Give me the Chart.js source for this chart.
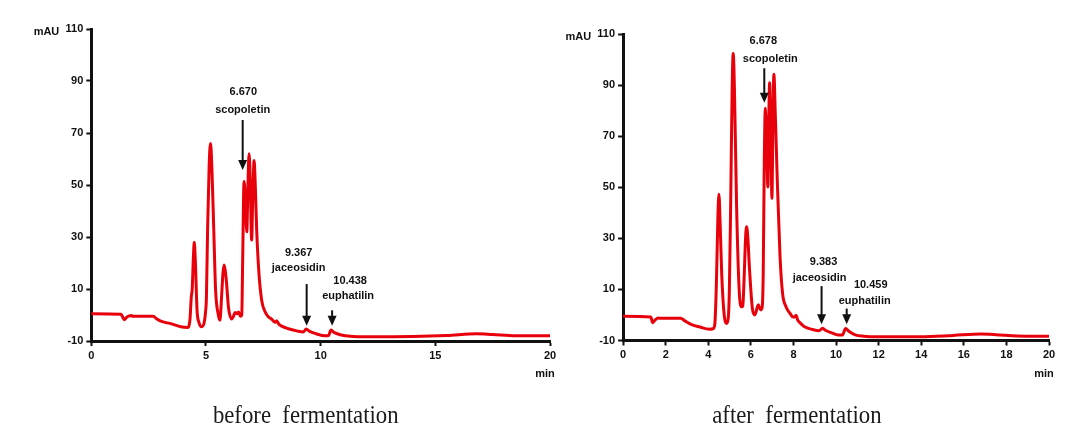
<!DOCTYPE html>
<html><head><meta charset="utf-8">
<script src="https://cdn.jsdelivr.net/npm/chart.js@4.4.1/dist/chart.umd.min.js"></script>
<style>
html,body{margin:0;padding:0;background:#fff;}
#wrap{position:relative;width:1077px;height:439px;overflow:hidden;background:#fff;}
canvas{position:absolute;left:0;top:0;}
.cap{position:absolute;top:400px;font-family:"Liberation Serif","DejaVu Serif",serif;font-size:26px;color:#1a1a1a;white-space:pre;transform:translateX(-50%) scaleX(0.875);transform-origin:0 0;}
</style></head><body>
<div id="wrap">
<canvas id="c1" width="1077" height="439" style="width:1077px;height:439px"></canvas>
<canvas id="c2" width="1077" height="439" style="width:1077px;height:439px"></canvas>
<div class="cap" id="cap1" style="left:319px"></div>
<div class="cap" id="cap2" style="left:809px"></div>
</div>
<script>
// ---------- data ----------
const captions = ['before  fermentation', 'after  fermentation'];
const yUnit = 'mAU';
const xUnit = 'min';
const yTicks = [-10, 10, 30, 50, 70, 90, 110];
const beforeXTicks = [0, 5, 10, 15, 20];
const afterXTicks = [0, 2, 4, 6, 8, 10, 12, 14, 16, 18, 20];
const peakNames = ['scopoletin', 'jaceosidin', 'euphatilin'];
const beforePeakRT = ['6.670', '9.367', '10.438'];
const afterPeakRT = ['6.678', '9.383', '10.459'];

const beforeTime = [0,1.3,1.38,1.45,1.55,1.65,1.75,1.8,2.7,2.85,3.0,3.5,3.9,4.2,4.3,4.36,4.4,4.45,4.49,4.54,4.61,4.7,4.81,4.92,4.98,5.02,5.07,5.14,5.2,5.26,5.34,5.42,5.54,5.61,5.68,5.74,5.79,5.84,5.9,5.98,6.12,6.2,6.27,6.36,6.42,6.5,6.56,6.6,6.66,6.72,6.78,6.83,6.88,6.93,6.99,7.04,7.1,7.15,7.21,7.31,7.43,7.58,7.73,7.85,7.95,8.02,8.08,8.18,8.3,8.6,9.0,9.25,9.37,9.5,9.8,10.2,10.35,10.45,10.6,10.9,11.3,12,14,15.5,16.8,17.5,18.5,20];
const beforeAbs = [0.5,0.3,-1.0,-1.8,-0.8,-0.4,-0.2,-0.5,-0.5,-1.5,-2.3,-3.4,-4.5,-4.8,-2,7,10,22,28,20,2,-3,-4.5,-3,1,7,32.7,58,66,56,32.7,9.5,0,-2,7,16,19.2,17,12,3,-1.5,-0.5,1,0.5,1.2,-0.5,0,21,51.3,44,32,50,62,52,28.8,45,59.4,50,33,16,5.6,1.2,-0.8,-1.5,-2.4,-2.8,-2.2,-3.6,-4.3,-5.3,-6.2,-6.5,-5.4,-6.2,-7.2,-8.0,-7.8,-5.8,-6.8,-7.7,-8.2,-8.4,-8.3,-7.9,-7.2,-7.5,-8.0,-8.0];

const afterTime = [0,1.3,1.39,1.5,1.65,1.75,2.7,2.9,3.25,3.6,4.05,4.24,4.31,4.38,4.45,4.5,4.56,4.63,4.74,4.86,4.94,4.99,5.05,5.12,5.17,5.23,5.33,5.46,5.57,5.62,5.69,5.75,5.8,5.86,5.93,6.08,6.19,6.3,6.35,6.42,6.47,6.53,6.58,6.63,6.68,6.74,6.8,6.84,6.88,6.93,6.99,7.03,7.08,7.15,7.24,7.37,7.49,7.65,7.84,7.98,8.05,8.12,8.2,8.3,8.5,8.9,9.2,9.37,9.5,9.8,10.1,10.3,10.45,10.6,10.9,11.3,12,14,15.5,16.8,17.5,18.5,20];
const afterAbs = [-0.5,-0.8,-3.0,-2.0,-1.2,-1.3,-1.3,-2.3,-3.9,-4.7,-5.6,-5.3,-3.3,12,38,47.3,35,16.3,0.6,-3.3,-1,9.7,42.4,88,102.5,88,42.4,8.4,3.2,3.5,16,30,34.6,30,18.9,2,0,3,4,2.5,2,3,16.3,60,81,68,50.2,75,91,75,45.7,72,94.3,78,52.9,22.8,8.4,3.2,0.6,-0.8,-0.8,-0.1,-2,-3,-4.5,-5.7,-6.2,-5.2,-6.0,-7.0,-7.8,-7.8,-5.3,-6.4,-7.8,-8.3,-8.5,-8.5,-8.0,-7.5,-7.7,-8.2,-8.3];

// ---------- rendering ----------
const FONT = '"Liberation Sans", Arial, sans-serif';
const annoPlugin = {
  id: 'anno',
  afterDatasetsDraw(chart, args, opts) {
    const ctx = chart.ctx, xs = chart.scales.x, ys = chart.scales.y, ca = chart.chartArea;
    ctx.save();
    ctx.fillStyle = '#111'; ctx.strokeStyle = '#111';
    ctx.font = 'bold 11px ' + FONT;
    ctx.textAlign = 'center'; ctx.textBaseline = 'middle';
    opts.items.forEach(a => {
      const x = xs.getPixelForValue(a.t), y0 = ys.getPixelForValue(a.tail), y1 = ys.getPixelForValue(a.tip);
      ctx.lineWidth = 2;
      ctx.beginPath(); ctx.moveTo(x, y0); ctx.lineTo(x, y1 - 8); ctx.stroke();
      ctx.beginPath(); ctx.moveTo(x - 4.5, y1 - 10); ctx.lineTo(x + 4.5, y1 - 10); ctx.lineTo(x, y1); ctx.closePath(); ctx.fill();
      ctx.fillText(a.name, x + a.ndx, y0 - a.nOff);
      ctx.fillText(a.rt, x + a.rdx, y0 - a.rOff);
    });
    ctx.textAlign = 'right';
    ctx.fillText(yUnit, ca.left - 32, ca.top + 3);
    ctx.textAlign = 'center';
    ctx.fillText(xUnit, ca.right - 5, ca.bottom + 33);
    ctx.restore();
  }
};

function makeChart(id, times, values, xTicks, pad, anno) {
  return new Chart(document.getElementById(id), {
    type: 'line',
    data: { datasets: [{ data: times.map((t, i) => ({ x: t, y: values[i] })), borderColor: '#e8000a', borderWidth: 3, pointRadius: 0, cubicInterpolationMode: 'monotone', fill: false, borderJoinStyle: 'round', borderCapStyle: 'round' }] },
    plugins: [annoPlugin],
    options: {
      responsive: false, animation: false,
      layout: { padding: pad },
      plugins: { legend: { display: false }, tooltip: { enabled: false }, anno: { items: anno } },
      scales: {
        x: {
          type: 'linear', min: 0, max: 20,
          afterBuildTicks: s => { s.ticks = xTicks.map(v => ({ value: v })); },
          afterFit: s => { s.height = 40; },
          grid: { drawOnChartArea: false, drawTicks: true, tickLength: 5, tickWidth: 2, tickColor: '#111' },
          border: { display: true, width: 3, color: '#111' },
          ticks: { font: { family: FONT, size: 11, weight: 'bold' }, color: '#111', padding: 3, maxRotation: 0 }
        },
        y: {
          type: 'linear', min: -10, max: 110,
          afterBuildTicks: s => { s.ticks = yTicks.map(v => ({ value: v })); },
          afterFit: s => { s.width = 40; },
          grid: { drawOnChartArea: false, drawTicks: true, tickLength: 5, tickWidth: 2, tickColor: '#111' },
          border: { display: true, width: 3, color: '#111' },
          ticks: { font: { family: FONT, size: 11, weight: 'bold' }, color: '#111', padding: 3 }
        }
      }
    }
  });
}

makeChart('c1', beforeTime, beforeAbs, beforeXTicks,
  { left: 51.3, right: 527, top: 29, bottom: 58 },
  [
    { t: 6.60, tail: 75, tip: 55.8, name: peakNames[0], rt: beforePeakRT[0], ndx: 0, nOff: 10, rdx: 0.6, rOff: 28 },
    { t: 9.39, tail: 11.9, tip: -4.1, name: peakNames[1], rt: beforePeakRT[1], ndx: -8, nOff: 16, rdx: -8, rOff: 31 },
    { t: 10.5, tail: 1.8, tip: -4.1, name: peakNames[2], rt: beforePeakRT[2], ndx: 16, nOff: 14, rdx: 18, rOff: 29 }
  ]);

makeChart('c2', afterTime, afterAbs, afterXTicks,
  { left: 583.1, right: 28, top: 34.3, bottom: 58.5 },
  [
    { t: 6.63, tail: 96.7, tip: 83.2, name: peakNames[0], rt: afterPeakRT[0], ndx: 6, nOff: 9, rdx: -1, rOff: 27 },
    { t: 9.32, tail: 11.3, tip: -3.6, name: peakNames[1], rt: afterPeakRT[1], ndx: -2, nOff: 8, rdx: 2, rOff: 24 },
    { t: 10.5, tail: 2.5, tip: -3.6, name: peakNames[2], rt: afterPeakRT[2], ndx: 18, nOff: 8, rdx: 24, rOff: 24 }
  ]);

document.getElementById('cap1').textContent = captions[0];
document.getElementById('cap2').textContent = captions[1];
</script>
</body></html>
